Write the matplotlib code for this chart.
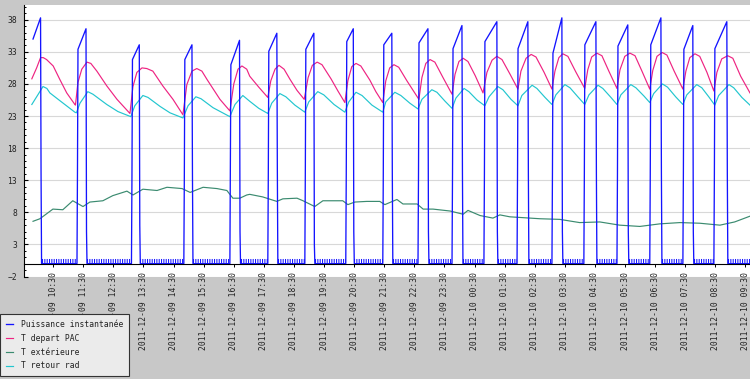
import numpy as np
import pandas as pd
import matplotlib
matplotlib.use("Agg")
import matplotlib.pyplot as plt
import matplotlib.dates as mdates
from matplotlib.transforms import offset_copy
from matplotlib.font_manager import FontProperties

# ---------------- data (times in hours since 2011-12-09 00:00) ----------------
t_start, t_end = 9.53, 33.65

# Puissance instantanée : on/off cycles
blue_on = [9.83, 11.29, 13.10, 14.84, 16.37, 17.63, 18.86, 20.22, 21.45, 22.62,
           23.75, 24.81, 25.91, 27.07, 28.13, 29.23, 30.32, 31.42, 32.45]
blue_off = [10.08, 11.59, 13.36, 15.11, 16.69, 17.93, 19.16, 20.47, 21.75, 22.95,
            24.08, 25.24, 26.27, 27.40, 28.53, 29.59, 30.69, 31.75, 32.88]
blue_start = [35.0, 33.4, 31.8, 31.8, 31.0, 33.1, 33.4, 34.6, 34.1, 34.4,
              33.5, 34.6, 33.5, 32.8, 34.1, 33.9, 34.1, 33.4, 33.5]
blue_peak = [38.3, 36.6, 34.1, 34.1, 34.8, 35.9, 35.9, 36.6, 35.9, 36.6,
             37.1, 37.7, 37.7, 38.3, 37.7, 37.2, 38.3, 37.1, 37.7]
blue_rise_mid = [None, 14.5, 13.5, 13.5, 16.0, 14.0, 14.3, 14.0, 14.0, 14.0,
                 14.0, 14.0, 14.0, 14.0, 14.0, 14.0, 14.0, 14.0, 14.0]
blue_drop_mid = [14.0, 5.0, 6.0, 14.0, 5.0, 14.8, 3.0, 5.0, 14.0, 5.0,
                 14.0, 5.0, 14.0, 5.0, 14.0, 5.0, 14.0, 5.0, 14.0]

# T depart PAC
red_t = [9.79, 9.95, 10.08, 10.17, 10.28, 10.50, 10.72, 10.95, 11.22,
         11.24, 11.32, 11.45, 11.62, 11.75, 11.95, 12.28, 12.62, 13.05,
         13.15, 13.28, 13.45, 13.61, 13.81, 14.14, 14.48, 14.81,
         14.94, 15.11, 15.27, 15.44, 15.61, 16.04, 16.37,
         16.50, 16.64, 16.77, 16.93, 17.03, 17.33, 17.63,
         17.73, 17.87, 18.00, 18.17, 18.37, 18.60, 18.84,
         18.97, 19.11, 19.27, 19.43, 19.73, 19.96, 20.19,
         20.29, 20.42, 20.56, 20.72, 21.02, 21.22, 21.45,
         21.55, 21.68, 21.82, 21.98, 22.25, 22.65,
         22.75, 22.88, 23.02, 23.18, 23.45, 23.75,
         23.85, 23.98, 24.12, 24.28, 24.52, 24.78,
         24.91, 25.08, 25.24, 25.41, 25.68, 25.94,
         26.04, 26.21, 26.38, 26.54, 26.81, 27.07,
         27.17, 27.30, 27.43, 27.60, 27.86, 28.16,
         28.26, 28.39, 28.56, 28.73, 28.96, 29.23,
         29.33, 29.49, 29.66, 29.83, 30.06, 30.32,
         30.42, 30.56, 30.73, 30.89, 31.13, 31.42,
         31.52, 31.65, 31.82, 31.98, 32.22, 32.45,
         32.55, 32.71, 32.91, 33.08, 33.34, 33.65]
red_v = [28.8, 30.5, 32.1, 32.1, 31.8, 30.8, 28.7, 26.6, 24.8,
         24.7, 28.2, 30.3, 31.4, 31.2, 30.0, 27.7, 25.6, 23.4,
         27.6, 29.8, 30.5, 30.4, 30.0, 27.7, 25.6, 23.2,
         27.9, 30.0, 30.4, 30.0, 28.7, 25.6, 23.8,
         28.0, 30.3, 30.8, 30.3, 29.2, 27.5, 25.9,
         28.5, 30.3, 30.9, 30.3, 28.7, 27.0, 25.6,
         29.0, 30.9, 31.4, 31.0, 28.8, 26.9, 25.1,
         28.5, 30.7, 31.2, 30.8, 28.6, 26.8, 25.1,
         28.5, 30.5, 31.0, 30.6, 28.5, 25.6,
         29.0, 31.2, 31.8, 31.4, 29.0, 26.4,
         29.5, 31.5, 32.0, 31.5, 29.3, 26.6,
         29.8, 31.7, 32.3, 31.8, 29.5, 27.2,
         30.0, 32.0, 32.6, 32.2, 29.8, 27.2,
         30.0, 32.1, 32.7, 32.3, 29.9, 27.3,
         30.2, 32.2, 32.8, 32.4, 30.0, 27.3,
         30.2, 32.3, 32.8, 32.4, 30.0, 27.2,
         30.1, 32.3, 32.9, 32.5, 30.0, 27.2,
         30.0, 32.1, 32.7, 32.3, 29.8, 26.9,
         29.8, 31.9, 32.4, 32.0, 29.2, 26.6]

# T retour rad
cyan_t = [9.79, 9.99, 10.16, 10.29, 10.39, 10.72, 11.22, 11.27,
          11.39, 11.65, 11.82, 12.28, 12.65, 13.08,
          13.21, 13.48, 13.65, 14.05, 14.38, 14.81,
          14.98, 15.24, 15.41, 15.81, 16.37,
          16.54, 16.80, 17.03, 17.33, 17.63,
          17.76, 18.03, 18.23, 18.53, 18.86,
          18.99, 19.29, 19.49, 19.83, 20.19,
          20.32, 20.56, 20.76, 21.09, 21.45,
          21.55, 21.85, 22.05, 22.35, 22.62,
          22.75, 23.08, 23.25, 23.52, 23.75,
          23.88, 24.15, 24.31, 24.58, 24.84,
          24.98, 25.27, 25.44, 25.71, 25.94,
          26.07, 26.41, 26.57, 26.84, 27.07,
          27.20, 27.50, 27.67, 27.93, 28.16,
          28.30, 28.60, 28.76, 29.03, 29.23,
          29.36, 29.69, 29.86, 30.13, 30.32,
          30.45, 30.74, 30.91, 31.18, 31.42,
          31.55, 31.88, 32.05, 32.28, 32.48,
          32.61, 32.95, 33.11, 33.38, 33.65]
cyan_v = [24.8, 26.3, 27.6, 27.3, 26.6, 25.4, 23.6, 23.5,
          25.0, 26.8, 26.4, 24.8, 23.7, 22.9,
          24.6, 26.2, 25.9, 24.5, 23.5, 22.7,
          24.6, 26.0, 25.7, 24.3, 22.9,
          24.8, 26.2, 25.3, 24.2, 23.4,
          25.0, 26.5, 26.0, 24.7, 23.6,
          25.2, 26.8, 26.3, 24.8, 23.6,
          25.2, 26.7, 26.2, 24.7, 23.6,
          25.2, 26.7, 26.2, 25.0, 24.1,
          25.6, 27.1, 26.7, 25.3, 24.2,
          25.8, 27.3, 26.8, 25.5, 24.6,
          26.0, 27.6, 27.1, 25.6, 24.6,
          26.2, 27.8, 27.3, 25.9, 24.8,
          26.3, 27.9, 27.4, 26.0, 24.8,
          26.3, 27.8, 27.3, 25.9, 24.8,
          26.3, 27.9, 27.4, 26.1, 25.1,
          26.5, 28.0, 27.5, 26.0, 24.8,
          26.3, 27.9, 27.4, 26.0, 24.7,
          26.2, 27.9, 27.4, 25.9, 24.7]

# T extérieure
green_t = [9.83, 10.06, 10.49, 10.82, 11.15, 11.49, 11.72, 12.15, 12.48, 12.95,
           13.15, 13.48, 13.95, 14.28, 14.78, 15.05, 15.48, 15.94, 16.27, 16.47,
           16.70, 16.93, 17.03, 17.46, 17.93, 18.13, 18.60, 18.80, 19.19, 19.46,
           20.12, 20.29, 20.52, 20.92, 21.35, 21.52, 21.92, 22.12, 22.59, 22.79,
           23.12, 23.69, 24.12, 24.28, 24.68, 25.11, 25.34, 25.67, 26.67, 27.33,
           27.99, 28.66, 29.32, 29.99, 30.65, 31.32, 31.98, 32.65, 33.14, 33.65]
green_v = [6.6, 7.0, 8.5, 8.4, 9.8, 8.9, 9.6, 9.8, 10.6, 11.3,
           10.7, 11.6, 11.4, 11.9, 11.7, 11.1, 11.9, 11.7, 11.4, 10.2,
           10.2, 10.7, 10.8, 10.4, 9.7, 10.1, 10.2, 9.8, 8.9, 9.8,
           9.8, 9.2, 9.6, 9.7, 9.7, 9.2, 10.0, 9.3, 9.3, 8.5,
           8.5, 8.2, 7.7, 8.3, 7.5, 7.1, 7.6, 7.3, 7.0, 6.9,
           6.4, 6.5, 6.0, 5.8, 6.2, 6.4, 6.3, 6.0, 6.5, 7.4]

labels = ["Puissance instantanée", "T depart PAC", "T extérieure", "T retour rad"]
colors = ["#1414ff", "#ee2482", "#3b8b70", "#22c6cf"]
y_major = list(range(-2, 39, 5))

# ---------------- build the power series from the read cycles ----------------
step = 1.0 / 60.0
bt, bv = [], []
for i in range(len(blue_on)):
    if i == 0:
        bt += [blue_on[i]]
        bv += [blue_start[i]]
    else:
        bt += [blue_on[i], blue_on[i] + step, blue_on[i] + 2 * step]
        bv += [0.0, blue_rise_mid[i], blue_start[i]]
    bt += [blue_off[i], blue_off[i] + step, blue_off[i] + 2 * step]
    bv += [blue_peak[i], blue_drop_mid[i], 0.0]
bt += [t_end]
bv += [0.0]
bv = np.array(bv, dtype=float)

base = pd.Timestamp("2011-12-09")
def to_dt(h):
    return (base + pd.to_timedelta(np.asarray(h, dtype=float), unit="h")).values

# ---------------- figure ----------------
W, H = 750, 379
fig = plt.figure(figsize=(W / 100, H / 100), dpi=100, facecolor="#c8c8c8")
ax = fig.add_axes([24 / W, 1 - 276.5 / H, 726 / W, 271.5 / H])
ax.set_facecolor("white")

mono = FontProperties(family="DejaVu Sans Mono", size=5.8)

ax.set_ylim(-2, 40.3)
ax.set_xlim(to_dt([t_start])[0], to_dt([t_end])[0])

for yv in y_major:
    ax.axhline(yv, color="#d8d8d8", lw=0.8, zorder=0)

lw = 0.85
h_blue, = ax.plot(to_dt(bt), bv, color=colors[0], lw=0.95, zorder=2.2)
h_red, = ax.plot(to_dt(red_t), red_v, color=colors[1], lw=lw, zorder=2.1)
h_green, = ax.plot(to_dt(green_t), green_v, color=colors[2], lw=lw, zorder=2.1)
h_cyan, = ax.plot(to_dt(cyan_t), cyan_v, color=colors[3], lw=lw, zorder=2.1)

# comb texture of the power baseline
off_only = np.where(bv == 0, bv, np.nan)
comb_tr = offset_copy(ax.transData, fig=fig, x=0, y=2.2, units="dots")
ax.plot(to_dt(bt), off_only, color=colors[0], lw=2.9, transform=comb_tr,
        linestyle=(0, (0.26, 0.32)), solid_capstyle="butt", dash_capstyle="butt",
        zorder=2.05)

# axes styling
for s in ("top", "right"):
    ax.spines[s].set_visible(False)
ax.spines["bottom"].set_position(("data", 0))
ax.spines["bottom"].set_color("black")
ax.spines["bottom"].set_linewidth(0.8)
ax.spines["left"].set_color("black")
ax.spines["left"].set_linewidth(0.8)

ax.set_yticks(y_major)
ax.set_yticks(np.arange(-2, 41, 1), minor=True)
ax.tick_params(axis="y", which="major", direction="in", length=3.2, width=0.8,
               pad=5.0, labelsize=5.8, labelcolor="#222222")
ax.tick_params(axis="y", which="minor", direction="in", length=1.6, width=0.7)
for lab in ax.get_yticklabels():
    lab.set_fontproperties(mono)

ax.xaxis.set_major_locator(mdates.MinuteLocator(byminute=[30]))
ax.xaxis.set_major_formatter(mdates.DateFormatter("%Y-%m-%d %H:%M"))
ax.tick_params(axis="x", which="major", direction="out", length=2.2, width=0.7,
               pad=3.6, labelsize=5.8, labelcolor="#222222")
plt.setp(ax.get_xticklabels(), rotation=90, ha="center", va="top",
         fontproperties=mono)

leg = fig.legend([h_blue, h_red, h_green, h_cyan], labels, loc="lower left",
                 bbox_to_anchor=(0, 3 / H), bbox_transform=fig.transFigure,
                 borderaxespad=0, frameon=True, fancybox=False, framealpha=1,
                 facecolor="#ebebeb", edgecolor="#333333", prop=mono,
                 handlelength=0.9, handletextpad=1.0, borderpad=0.7,
                 labelspacing=0.6)
leg.get_frame().set_linewidth(0.8)
for t in leg.get_texts():
    t.set_color("#222222")

fig.savefig("out.png", dpi=100, facecolor=fig.get_facecolor())
